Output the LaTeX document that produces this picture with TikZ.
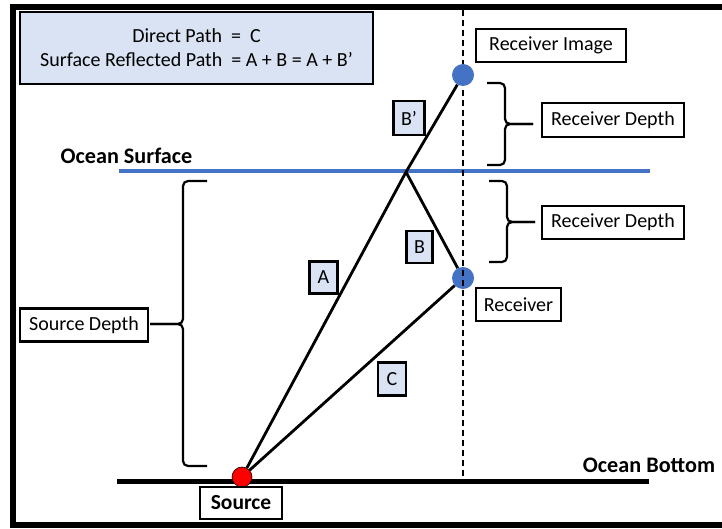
\documentclass[tikz,border=0pt]{standalone}
\usepackage{fontspec}
\setmainfont{Carlito}
\usetikzlibrary{positioning}
\definecolor{paleblue}{HTML}{DAE3F3}
\definecolor{seablue}{HTML}{4472C4}
\tikzset{
  lbl/.style={draw, line width=2.2pt, fill=white, inner sep=0pt, minimum height=33,
    font=\fontsize{20}{24}\selectfont},
  tag/.style={lbl, fill=paleblue, minimum width=28, minimum height=32},
  plain/.style={inner sep=0pt, font=\fontsize{22.2}{26}\selectfont\bfseries},
  dot/.style={circle, fill=seablue, inner sep=0pt, minimum size=22},
  ray/.style={line width=2.8pt},
  curl/.style={line width=2.2pt, rounded corners=5pt},
}

\begin{document}
\begin{tikzpicture}[x=1pt, y=-1pt]
   \useasboundingbox (0,0) rectangle (722,529);
   % frame
   \draw[line width=6.5pt] (722,7) -- (13,7) -- (13,525) -- (722,525);

   \node[lbl, fill=paleblue, minimum width=353, minimum height=72, align=center] (title) at (196.5,48)
      {Direct Path~~=~~C\\Surface Reflected Path~~= A + B = A + B’};

   % surface and bottom
   \draw[seablue, line width=4pt] (119,171) -- (650,171);
   \draw[line width=4.5pt] (117,481.5) -- (649,481.5);
   \node[plain] (surface) at (126.5,156) {Ocean Surface};
   \node[plain] (bottom) at (649,465) {Ocean Bottom};

   \node[dot] (rcv) at (463,278) {};
   \draw[line width=1.3pt, dash pattern=on 6pt off 4pt] (463,10) -- (463,476);
   \node[dot] (img) at (463,75) {};
   \node[dot, fill=red, draw=black, line width=0.6pt, minimum size=20] (src) at (242,477) {};
   \coordinate (bounce) at (406,172);

   \draw[ray] (src) -- (bounce) -- (img);
   \draw[ray] (bounce) -- (rcv);
   \draw[ray] (src) -- (rcv);

   \node[tag, minimum width=31, minimum height=34] (bprime) at (409,118) {B’};
   \node[tag, minimum width=26] (b) at (419.5,247) {B};
   \node[tag] (a) at (323.5,277.5) {A};
   \node[tag, minimum height=33] (c) at (392,379) {C};

   \node[lbl, minimum width=150] (imglabel) at (551,45.5) {Receiver Image};
   \node[lbl, minimum width=142, minimum height=34] (depthup) at (613,120) {Receiver Depth};
   \node[lbl, minimum width=142] (depthdown) at (613,222.5) {Receiver Depth};
   \node[lbl, minimum width=85] (rcvlabel) at (518.5,304.5) {Receiver};
   \node[lbl, minimum width=128] (srcdepth) at (84,325) {Source Depth};
   \node[lbl, minimum width=82, minimum height=32, font=\fontsize{21.5}{26}\selectfont\bfseries] (srclabel) at (241,503) {Source};

   % braces
   \coordinate (tipup) at (533,124);
   \coordinate (tipdown) at (535,222);
   \coordinate (tipsrc) at (150,324);
   \draw[curl] (487,83) -| (505,124) -- (tipup);
   \draw[curl] (tipup) -- (505,124) |- (487,165);
   \draw[curl] (489,181) -| (507,222) -- (tipdown);
   \draw[curl] (tipdown) -- (507,222) |- (489,262);
   \draw[curl] (207,181) -| (183,324) -- (tipsrc);
   \draw[curl] (tipsrc) -- (183,324) |- (207,466);
\end{tikzpicture}
\end{document}
